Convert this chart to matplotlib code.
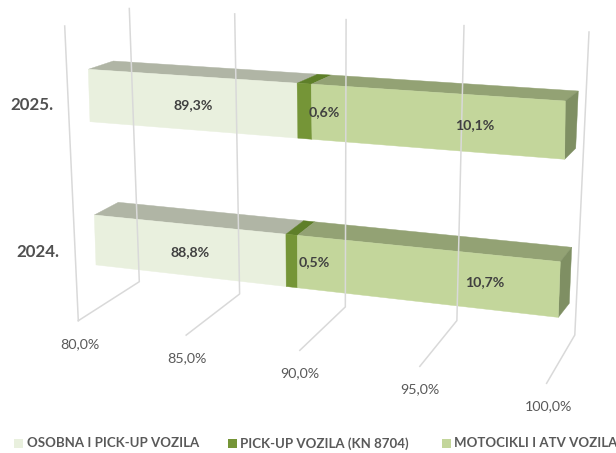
# -*- coding: utf-8 -*-
import numpy as np
import matplotlib
matplotlib.use('Agg')
import matplotlib.pyplot as plt
from matplotlib.patches import Polygon

plt.rcParams['font.family'] = ['Lato', 'DejaVu Sans']

years = ['2025.', '2024.']
osobna = [89.3, 88.8]
pickup = [0.6, 0.5]
moto = [10.1, 10.7]
series_names = ['OSOBNA I PICK-UP VOZILA', 'PICK-UP VOZILA (KN 8704)', 'MOTOCIKLI I ATV VOZILA']
ticks = [80, 85, 90, 95, 100]
tick_labels = ['80,0%', '85,0%', '90,0%', '95,0%', '100,0%']
vmin, vmax = 80.0, 100.0

# layout of the fake 3d scene in pixels: corners go TL, TR, BR, BL
front_quads = [[(88.3, 69.3), (565.3, 101), (564.7, 159.3), (90, 121.7)],
               [(94.3, 215), (560.3, 261.7), (558.3, 317.4), (96, 264.9)]]
back_quads = [[(113.3, 61), (578.3, 91), (575.7, 148.3), (115, 113)],
              [(118.3, 202.3), (571.7, 247.3), (569.3, 303.3), (120, 252)]]
wall_quad = [(129.3, 8.5), (589, 32), (574.8, 335), (139.3, 281.7)]
floor_quad = [(139.3, 281.7), (574.8, 335), (546.6, 383.3), (78.3, 320.7)]
side_top = (64.7, 26)

front_cols = ['#e9f0de', '#759537', '#c3d69b']
top_cols = ['#b0b5a5', '#5e7f29', '#93a274']
side_col = '#7f8f63'
grid_col = '#d9d9d9'

bar_label_pos = [[(193, 105), (324.5, 112), (475, 125)],
                 [(190, 252), (314.5, 262), (485, 282)]]
year_pos = [(31.7, 104.5), (37.7, 251.7)]
tick_pos = [(79.5, 344), (187, 358), (300, 373), (420, 389), (548, 406)]
leg_box_x = [14, 228, 441.5]
leg_text_x = [26.7, 240.5, 454]


def homography(quad):
    # unit square -> quad, so spacing along the bar gets the perspective
    src = [(0, 0), (1, 0), (1, 1), (0, 1)]
    A = []
    b = []
    for (s, t), (x, y) in zip(src, quad):
        A.append([s, t, 1, 0, 0, 0, -s*x, -t*x])
        A.append([0, 0, 0, s, t, 1, -s*y, -t*y])
        b += [x, y]
    h = np.linalg.solve(np.array(A, dtype=float), np.array(b, dtype=float))
    return np.append(h, 1).reshape(3, 3)


def project(H, v, u):
    t = (v - vmin) / (vmax - vmin)
    p = H.dot([t, u, 1.0])
    return (p[0] / p[2], p[1] / p[2])


def face(ax, pts, col):
    ax.add_patch(Polygon(pts, closed=True, facecolor=col, edgecolor=col, lw=0.3))


fig = plt.figure(figsize=(6.16, 4.53), dpi=100)
ax = fig.add_axes([0, 0, 1, 1])
ax.set_xlim(0, 616)
ax.set_ylim(453, 0)
ax.axis('off')

# gridlines on the wall and on the floor
H_wall = homography(wall_quad)
H_floor = homography(floor_quad)
for v in ticks:
    a = project(H_wall, v, 0)
    b = project(H_wall, v, 1)
    c = project(H_floor, v, 1)
    ax.plot([a[0], b[0], c[0]], [a[1], b[1], c[1]], color=grid_col, lw=1.1)
corner = project(H_floor, vmin, 1)
ax.plot([side_top[0], corner[0]], [side_top[1], corner[1]], color=grid_col, lw=1.1)

for i in range(len(years)):
    Hf = homography(front_quads[i])
    Hb = homography(back_quads[i])
    vals = [osobna[i], pickup[i], moto[i]]
    edges = vmin, osobna[i], osobna[i] + pickup[i], vmax

    for j in range(3):
        v0, v1 = edges[j], edges[j + 1]
        face(ax, [project(Hf, v0, 0), project(Hf, v1, 0), project(Hb, v1, 0), project(Hb, v0, 0)], top_cols[j])

    face(ax, [project(Hf, vmax, 0), project(Hb, vmax, 0), project(Hb, vmax, 1), project(Hf, vmax, 1)], side_col)

    for j in range(3):
        v0, v1 = edges[j], edges[j + 1]
        face(ax, [project(Hf, v0, 0), project(Hf, v1, 0), project(Hf, v1, 1), project(Hf, v0, 1)], front_cols[j])

    for j in range(3):
        txt = ('%.1f%%' % vals[j]).replace('.', ',')
        ax.text(bar_label_pos[i][j][0], bar_label_pos[i][j][1], txt, ha='center', va='center',
                fontsize=10.2, fontweight='bold', color='#404040')

    ax.text(year_pos[i][0], year_pos[i][1], years[i], ha='center', va='center',
            fontsize=12.2, fontweight='bold', color='#505050')

for j in range(len(ticks)):
    ax.text(tick_pos[j][0], tick_pos[j][1], tick_labels[j], ha='center', va='center',
            fontsize=10.3, color='#595959')

for j in range(3):
    ax.add_patch(Polygon([(leg_box_x[j], 439), (leg_box_x[j] + 9, 439), (leg_box_x[j] + 9, 448), (leg_box_x[j], 448)],
                         closed=True, facecolor=front_cols[j], edgecolor='none'))
    ax.text(leg_text_x[j], 443.3, series_names[j], ha='left', va='center',
            fontsize=9.5, fontweight='bold', color='#595959')

fig.savefig('out.png', dpi=100)
